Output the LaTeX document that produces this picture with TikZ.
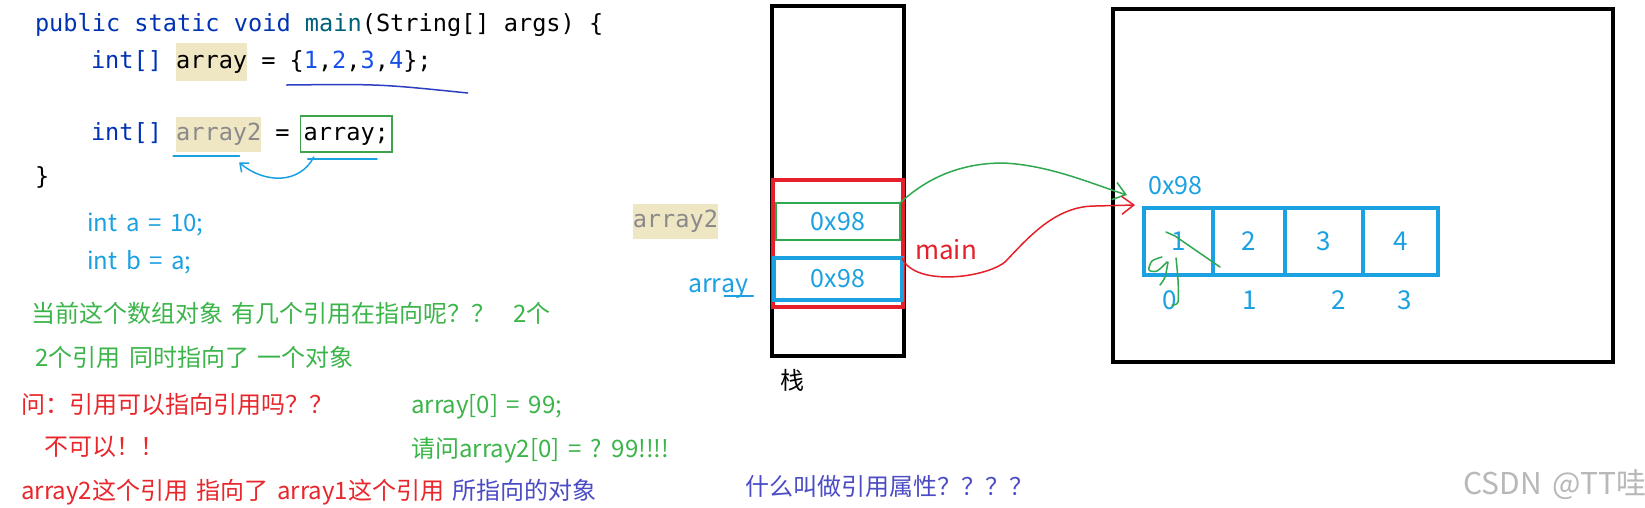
\documentclass[tikz,border=0pt]{standalone}
\usepackage{fontspec}
\usepackage{tikz}
\usetikzlibrary{arrows,arrows.meta,positioning}
\newfontfamily\cjk[WordSpace=1.6]{Noto Sans CJK SC}
\newfontfamily\codefont{DejaVu Sans Mono}
\definecolor{kwblue}{HTML}{0033B3}
\definecolor{fnteal}{HTML}{00627A}
\definecolor{numblue}{HTML}{1750EB}
\definecolor{hlbeige}{HTML}{EFE6C4}
\definecolor{vargray}{HTML}{8A8A8A}
\definecolor{boxgreen}{HTML}{3FA34D}
\definecolor{skyblue}{HTML}{1BA1E2}
\definecolor{notegreen}{HTML}{3BB54A}
\definecolor{notered}{HTML}{E8262B}
\definecolor{notepurple}{HTML}{4B4BC6}
\definecolor{inkblue}{HTML}{2C3FC2}
\definecolor{pengreen}{HTML}{2FA84F}
\definecolor{penred}{HTML}{E5202A}
\tikzset{
    %Define standard arrow tip
    >={Straight Barb[length=12pt,width=18pt]},
    %Define style for code lines
    code/.style={
           inner xsep=0pt,
           inner ysep=6.5pt,
           outer sep=0pt,
           text height=17pt,
           text depth=5pt,
           font=\codefont\fontsize{23.6}{28}\selectfont,
           anchor=west,
           },
    hl/.style={
           code,
           fill=hlbeige,
           },
    %Define style for notes
    note/.style={
           inner sep=0pt,
           anchor=west,
           text height=21pt,
           text depth=3pt,
           font=\cjk\fontsize{24}{29}\selectfont,
           },
    %Define style for memory boxes
    memframe/.style={
           rectangle,
           draw=black,
           line width=4pt,
           outer sep=0pt,
           },
    slot/.style={
           rectangle,
           outer sep=0pt,
           text=skyblue,
           font=\cjk\fontsize{25}{30}\selectfont,
           },
    cell/.style={
           rectangle,
           draw=skyblue,
           line width=4pt,
           outer sep=0pt,
           minimum height=67pt,
           text=skyblue,
           font=\cjk\fontsize{26}{30}\selectfont,
           },
    idx/.style={
           text=skyblue,
           inner sep=0pt,
           font=\cjk\fontsize{26}{30}\selectfont,
           },
    % Define pen stroke style
    pen/.style={
           ->,
           line width=1.5pt,
           line cap=round,
           line join=round,},
    ink/.style={
           line width=1.5pt,
           line cap=round,
           line join=round,},
}

\begin{document}
\begin{tikzpicture}[x=1pt,y=-1pt,node distance=14.1pt]
\path[fill=white] (0,0) rectangle (1645,507);
\useasboundingbox (0,0) rectangle (1645,507);
 %code
\node[code, text=kwblue] (l1) at (35,25) {public static void \textcolor{fnteal}{main}\textcolor{black}{(String[] args) \{}};
\node[code, text=kwblue] (int2) at (91,62) {int[]};
\node[hl, right=of int2, minimum height=38pt] (arr1) {array};
\node[code, right=of arr1] (eq2) {=};
\node[code, right=of eq2] (lit) {\{\textcolor{numblue}{1},\textcolor{numblue}{2},\textcolor{numblue}{3},\textcolor{numblue}{4}\};};
\node[code, text=kwblue] (int3) at (91,134) {int[]};
\node[hl, text=vargray, right=of int3, minimum height=35pt] (arr2) {array2};
\node[code, right=of arr2] (eq3) {=};
\node[code, right=11pt of eq3, inner xsep=3pt, inner ysep=7pt, draw=boxgreen, line width=1.5pt] (arrsrc) {array;};
\node[code] (l4) at (35,178) {\}};
\draw[ink, inkblue] ([xshift=-3pt,yshift=-5.5pt]lit.south west) .. controls (380,84) .. ([xshift=36pt,yshift=-13.5pt]lit.south east);
\draw[ink, skyblue] ([xshift=-3pt,yshift=-4.5pt]arr2.south west) -- ([xshift=-22pt,yshift=-4.5pt]arr2.south east);
\draw[ink, skyblue] ([xshift=7pt,yshift=-7pt]arrsrc.south west) -- ([xshift=-15pt,yshift=-7pt]arrsrc.south east);
\draw[pen, skyblue, >={Straight Barb[length=7pt,width=12pt]}] ([xshift=13pt,yshift=-5pt]arrsrc.south west) .. controls (300,184) and (265,184) .. ([xshift=63pt,yshift=-11pt]arr2.south west);
 %notes
\node[note, text=skyblue] (inta) at (87,222) {int a = 10;};
\node[note, text=skyblue] (intb) at (87,260) {int b = a;};
\node[note, text=notegreen] (q1) at (31,313) {当前这个数组对象 有几个引用在指向呢？？~~2个};
\node[note, text=notegreen] (q2) at (35,357) {2个引用 同时指向了 一个对象};
\node[note, text=notered] (q3) at (21,404) {问：引用可以指向引用吗？？};
\node[note, text=notered] (q4) at (44,446) {不可以！！};
\node[note, text=notered] (q5) at (21,490) {array2这个引用 指向了 array1这个引用 \textcolor{notepurple}{所指向的对象}};
\node[note, text=notegreen] (q6) at (411,404) {array[0] = 99;};
\node[note, text=notegreen] (q7) at (411,448) {请问array2[0] = ? 99!!!!};
\node[note, text=notepurple] (q8) at (745,486) {什么叫做引用属性？？？？};
\node[note, text=black!28, font=\cjk\fontsize{30}{34}\selectfont] (mark) at (1463,485) {CSDN @TT哇};
 %stack
\node[memframe, minimum width=132pt, minimum height=350pt] (stack) at (838,181) {};
\node[memframe, draw=penred, minimum width=130pt, minimum height=127pt] (frame) at (838,243.5) {};
\node[slot, draw=pengreen, line width=2pt, minimum width=124pt, minimum height=37pt] (ref2) at (838,221.5) {0x98};
\node[slot, draw=skyblue, line width=4pt, minimum width=128pt, minimum height=42pt] (ref1) at (838,279) {0x98};
\node[hl, text=vargray, left=58pt of ref2, minimum height=33pt] (lab2) {array2};
\node[note, text=skyblue, font=\cjk\fontsize{25}{30}\selectfont] (lab1) at (688,283) {array};
\draw[ink, skyblue] ([xshift=-24pt,yshift=-1pt]lab1.south east) -- ([xshift=5pt,yshift=-1pt]lab1.south east);
\node[note, text=penred, font=\cjk\fontsize{26}{30}\selectfont] (mainlab) at (915,250) {main};
\node[note, text=black] (zhan) at (780,380) {栈};
 %heap
\node[memframe, minimum width=500pt, minimum height=353pt] (heap) at (1363,185.5) {};
\node[note, text=skyblue, font=\cjk\fontsize{25}{30}\selectfont] (addr) at (1148,185) {0x98};
\node[cell, minimum width=69pt] (c0) at (1178.5,241.5) {1};
\node[cell, minimum width=72pt, right=0pt of c0] (c1) {2};
\node[cell, minimum width=78pt, right=0pt of c1] (c2) {3};
\node[cell, minimum width=75pt, right=0pt of c2] (c3) {4};
\node[idx] (i0) at (1170,300) {0};
\node[idx] (i1) at (1250,300) {1};
\node[idx] (i2) at (1339,300) {2};
\node[idx] (i3) at (1405,300) {3};
\draw[ink, pengreen] (1166,232) -- (1175,236) -- (1220,267);
\draw[ink, pengreen] plot[smooth] coordinates {(1162,257) (1152,261) (1149,270) (1157,271) (1167,262)};
\draw[ink, pengreen] plot[smooth] coordinates {(1168,262) (1165,277) (1160,285)};
\draw[ink, pengreen] plot[smooth] coordinates {(1176,258) (1178,280) (1178,302) (1172,305)};
 %references
\draw[pen, pengreen] (ref2.north east) .. controls (930,175) and (965,163) .. (1003,163) .. controls (1050,165) and (1095,185) .. ([xshift=-17pt,yshift=13pt]c0.north west);
\draw[pen, penred] (ref1.north east) .. controls (915,287) and (985,278) .. (1005,262) .. controls (1028,238) and (1055,206) .. (1095,206) -- ([xshift=-9pt,yshift=3pt]c0.north west);
\end{tikzpicture}
\end{document}
